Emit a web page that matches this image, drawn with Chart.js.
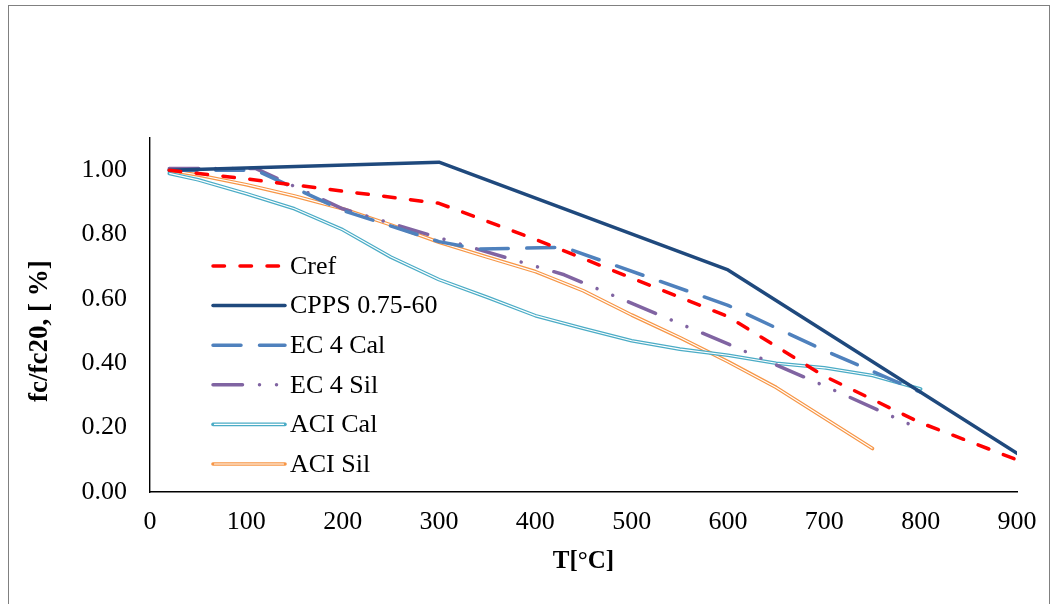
<!DOCTYPE html>
<html>
<head>
<meta charset="utf-8">
<script src="https://cdn.jsdelivr.net/npm/chart.js@4.4.1/dist/chart.umd.min.js"></script>
<style>
  body { margin: 0; background: #fff; }
  #frame { position: absolute; left: 8px; top: 5px; width: 1040px; height: 620px; border: 1px solid #808080; }
  canvas { position: absolute; left: 0; top: 0; }
</style>
</head>
<body>
<div id="frame"></div>
<canvas id="fcChart" width="1056" height="604"></canvas>
<script>
// temperature [°C] and fc/fc20
const crefT = [20, 100, 200, 300, 400, 500, 600, 700, 800, 900];
const crefFc = [1.00, 0.973, 0.935, 0.897, 0.785, 0.665, 0.545, 0.36, 0.215, 0.10];

const cppsT = [20, 300, 600, 900];
const cppsFc = [1.00, 1.025, 0.69, 0.12];

const ec4CalT = [20, 110, 200, 300, 340, 430, 600, 700, 800];
const ec4CalFc = [1.00, 1.00, 0.875, 0.778, 0.755, 0.76, 0.58, 0.44, 0.31];

const ec4SilT = [20, 110, 200, 300, 430, 600, 700, 800];
const ec4SilFc = [1.005, 1.005, 0.88, 0.79, 0.675, 0.46, 0.33, 0.195];

const aciCalT = [20, 50, 100, 150, 200, 250, 300, 350, 400, 450, 500, 550, 600, 650, 700, 750, 800];
const aciCalFc = [0.99, 0.97, 0.927, 0.88, 0.815, 0.73, 0.66, 0.605, 0.548, 0.508, 0.47, 0.444, 0.425, 0.40, 0.386, 0.362, 0.32];

const aciSilT = [20, 50, 100, 150, 200, 250, 300, 350, 400, 450, 500, 550, 600, 650, 700, 750];
const aciSilFc = [1.00, 0.985, 0.955, 0.92, 0.88, 0.83, 0.776, 0.73, 0.685, 0.625, 0.55, 0.48, 0.405, 0.325, 0.23, 0.135];

const seriesNames = ['Cref', 'CPPS 0.75-60', 'EC 4 Cal', 'EC 4 Sil', 'ACI Cal', 'ACI Sil'];
const xTicks = [0, 100, 200, 300, 400, 500, 600, 700, 800, 900];
const yTitle = 'fc/fc20, [ %]';

const FONT = "'Liberation Serif', 'Times New Roman', serif";

const pts = (xs, ys) => xs.map((x, i) => ({ x: x, y: ys[i] }));

function line(name, xs, ys, color, dash, extra) {
    return Object.assign({
        label: name,
        data: pts(xs, ys),
        showLine: true,
        borderColor: color,
        backgroundColor: color,
        borderWidth: 3.5,
        borderDash: dash,
        borderCapStyle: 'round',
        borderJoinStyle: 'round',
        pointRadius: 0,
        pointHoverRadius: 0,
        tension: 0
    }, extra || {});
}

// white core on top of the ACI lines, to get Excel's "double" line look
const doubleLine = {
    id: 'doubleLine',
    afterDatasetDraw(chart, args) {
        const ds = chart.data.datasets[args.index];
        if (!ds.double) return;
        const pts = args.meta.data;
        const ctx = chart.ctx;
        const area = chart.chartArea;
        ctx.save();
        ctx.beginPath();
        ctx.rect(area.left, area.top, area.right - area.left, area.bottom - area.top);
        ctx.clip();
        ctx.beginPath();
        pts.forEach((p, i) => i ? ctx.lineTo(p.x, p.y) : ctx.moveTo(p.x, p.y));
        ctx.strokeStyle = '#fff';
        ctx.lineWidth = 1.2;
        ctx.lineJoin = 'round';
        ctx.stroke();
        ctx.restore();
    }
};

// legend drawn inside the plot with line swatches, plus the y title
const lineLegend = {
    id: 'lineLegend',
    afterDraw(chart) {
        const ctx = chart.ctx;
        const a = chart.chartArea;
        const x1 = a.left + 63, x2 = a.left + 135;
        chart.data.datasets.forEach((ds, i) => {
            const y = a.top + 128 + i * 39.6;
            ctx.save();
            ctx.beginPath();
            ctx.moveTo(x1, y);
            ctx.lineTo(x2, y);
            ctx.strokeStyle = ds.borderColor;
            ctx.lineWidth = ds.borderWidth;
            ctx.lineCap = ds.borderCapStyle;
            ctx.setLineDash(ds.borderDash || []);
            ctx.stroke();
            if (ds.double) {
                ctx.setLineDash([]);
                ctx.strokeStyle = '#fff';
                ctx.lineWidth = 1.2;
                ctx.beginPath();
                ctx.moveTo(x1 + 1.5, y);
                ctx.lineTo(x2 - 1.5, y);
                ctx.stroke();
            }
            ctx.fillStyle = '#000';
            ctx.font = '26px ' + FONT;
            ctx.textBaseline = 'middle';
            ctx.fillText(ds.label, x2 + 5, y + 1);
            ctx.restore();
        });

        // y title centred on the 0 - 1.00 span like in the original
        const yScale = chart.scales.y;
        const yc = (yScale.getPixelForValue(0) + yScale.getPixelForValue(1)) / 2;
        ctx.save();
        ctx.translate(40, yc);
        ctx.rotate(-Math.PI / 2);
        ctx.fillStyle = '#000';
        ctx.font = 'bold 27px ' + FONT;
        ctx.textAlign = 'center';
        ctx.textBaseline = 'middle';
        ctx.fillText(yTitle, 0, 0);
        ctx.restore();
    }
};

const dataFc = {
    datasets: [
        line(seriesNames[0], crefT, crefFc, '#FF0000', [11.5, 15.5]),
        line(seriesNames[1], cppsT, cppsFc, '#1F497D', []),
        line(seriesNames[2], ec4CalT, ec4CalFc, '#4F81BD', [28, 18.5]),
        line(seriesNames[3], ec4SilT, ec4SilFc, '#8064A2', [29.5, 17, 0.01, 17, 0.01, 17]),
        line(seriesNames[4], aciCalT, aciCalFc, '#4BACC6', [], { borderWidth: 3.6, double: true }),
        line(seriesNames[5], aciSilT, aciSilFc, '#F79646', [], { borderWidth: 3.6, double: true })
    ]
};

const configFc = {
    type: 'scatter',
    data: dataFc,
    plugins: [doubleLine, lineLegend],
    options: {
        responsive: false,
        animation: false,
        devicePixelRatio: 1,
        layout: { padding: { left: 0, top: 138, right: 39, bottom: 0 } },
        plugins: {
            legend: { display: false },
            tooltip: { enabled: false }
        },
        scales: {
            x: {
                type: 'linear',
                min: 0,
                max: 900,
                afterFit: (scale) => { scale.height = 112; },
                afterBuildTicks: (scale) => { scale.ticks = xTicks.map((v) => ({ value: v })); },
                grid: { display: false, drawTicks: false },
                border: { display: true, color: '#000', width: 1.4 },
                ticks: {
                    padding: 15,
                    color: '#000',
                    font: { family: FONT, size: 26 },
                    maxRotation: 0,
                    callback: (v) => String(v)
                },
                title: {
                    display: true,
                    text: 'T[°C]',
                    color: '#000',
                    font: { family: FONT, size: 25, weight: 'bold' },
                    padding: { top: 0, bottom: 27 }
                }
            },
            y: {
                type: 'linear',
                min: 0,
                max: 1.1,
                afterFit: (scale) => { scale.width = 150; },
                afterBuildTicks: (scale) => { scale.ticks = scale.ticks.filter((t) => t.value <= 1.0001); },
                grid: { display: false, drawTicks: false },
                border: { display: true, color: '#000', width: 1.4 },
                ticks: {
                    stepSize: 0.2,
                    padding: 23,
                    color: '#000',
                    font: { family: FONT, size: 26 },
                    callback: (v) => Number(v).toFixed(2)
                },
                title: { display: false }
            }
        }
    }
};

new Chart(
    document.getElementById('fcChart'),
    configFc
);
</script>
</body>
</html>
